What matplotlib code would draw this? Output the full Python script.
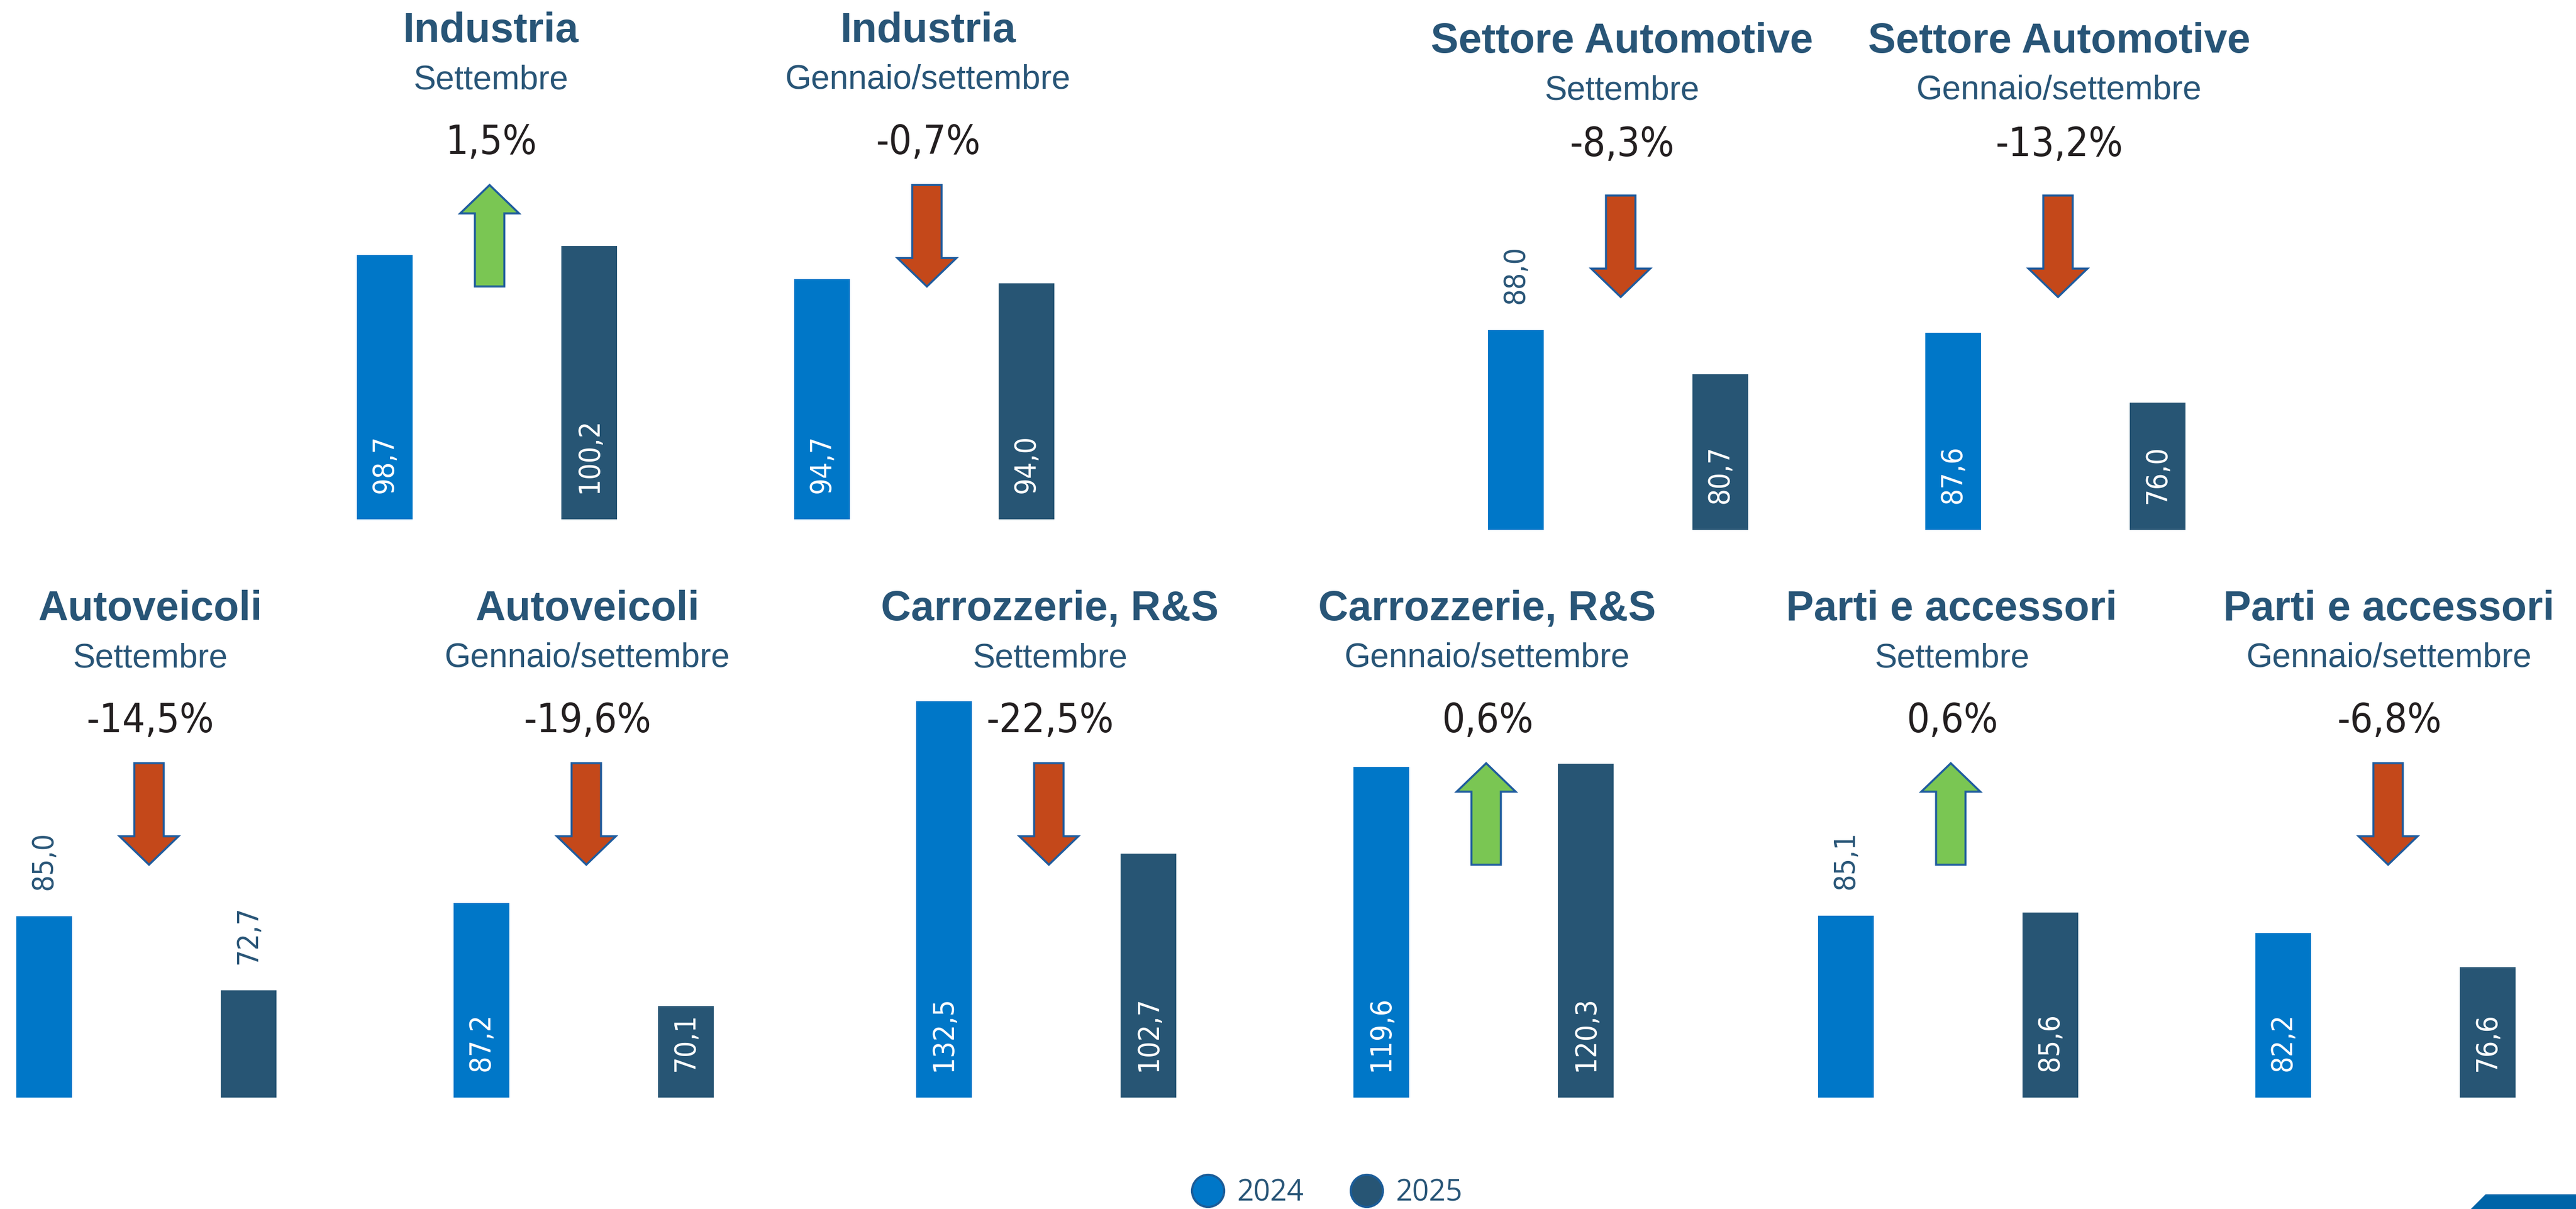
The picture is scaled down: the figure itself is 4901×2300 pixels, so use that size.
import matplotlib
matplotlib.use("Agg")
import matplotlib.pyplot as plt
from matplotlib.patches import Polygon
from matplotlib.lines import Line2D
from matplotlib.transforms import Affine2D
from matplotlib import font_manager
from matplotlib.font_manager import FontProperties

# ---- data ----
titles = ["Industria", "Industria", "Settore Automotive", "Settore Automotive",
          "Autoveicoli", "Autoveicoli", "Carrozzerie, R&S", "Carrozzerie, R&S",
          "Parti e accessori", "Parti e accessori"]
periods = ["Settembre", "Gennaio/settembre"] * 5
years = ["2024", "2025"]
values_2024 = [98.7, 94.7, 88.0, 87.6, 85.0, 87.2, 132.5, 119.6, 85.1, 82.2]
values_2025 = [100.2, 94.0, 80.7, 76.0, 72.7, 70.1, 102.7, 120.3, 85.6, 76.6]
changes = [1.5, -0.7, -8.3, -13.2, -14.5, -19.6, -22.5, 0.6, 0.6, -6.8]

# ---- layout (pixels, origin top-left) ----
W, H = 4901, 2300
bar_left = [679, 1511, 2831, 3663, 31, 863, 1743, 2575, 3459, 4291]
y_off = [0, 0, 20, 20, 1100, 1100, 1100, 1100, 1100, 1100]
pct_y = [293, 293, 297, 297, 1393, 1393, 1393, 1393, 1393, 1393]
px_per_unit = [11.5, 11.5, 11.5, 11.5, 11.5, 11.5, 9.73, 9.73, 11.5, 11.5]
label_out = {(2, 0), (4, 0), (4, 1), (8, 0)}
Y_MIN = 55
AX_H = 900
SPACING = 389
BAR_W = 106

C2024 = "#0077C8"
C2025 = "#275574"
TXT = "#285577"
EDGE = "#1F5C9E"
RED = "#C4481A"
GREEN = "#7AC653"

# a narrow face for numbers, if one is installed
fonts = font_manager.fontManager.ttflist
names = {f.name for f in fonts}
sans = "Liberation Sans" if "Liberation Sans" in names else "DejaVu Sans"
narrow_file = None
for pref in ("LiberationSansNarrow-Regular", "DejaVuSansCondensed.", "Roboto_Condensed-Regular",
             "RobotoCondensed-Regular"):
    for f in fonts:
        if pref in f.fname:
            narrow_file = f.fname
            break
    if narrow_file:
        break


def num_font(size):
    if narrow_file:
        return FontProperties(fname=narrow_file, size=size)
    return FontProperties(family="DejaVu Sans", size=size * 0.9)


fig = plt.figure(figsize=(W / 100, H / 100), dpi=100)
pix = Affine2D().scale(1 / W, -1 / H).translate(0, 1) + fig.transFigure


def arrow_pts(cx, top, up):
    L, hl, hw, sw = 193, 54, 56, 28
    if up:
        return [(cx, top), (cx + hw, top + hl), (cx + sw, top + hl), (cx + sw, top + L),
                (cx - sw, top + L), (cx - sw, top + hl), (cx - hw, top + hl)]
    bot = top + L
    return [(cx, bot), (cx + hw, bot - hl), (cx + sw, bot - hl), (cx + sw, top),
            (cx - sw, top), (cx - sw, bot - hl), (cx - hw, bot - hl)]


for i in range(len(titles)):
    bottom = 988 + y_off[i]
    ax_left = bar_left[i] + BAR_W / 2 - SPACING / 2
    ax = fig.add_axes([ax_left / W, 1 - bottom / H, 2 * SPACING / W, AX_H / H])
    ax.set_xlim(-0.5, 1.5)
    ax.set_ylim(Y_MIN, Y_MIN + AX_H / px_per_unit[i])
    ax.axis("off")
    vals = [values_2024[i], values_2025[i]]
    ax.bar([0, 1], vals, width=BAR_W / SPACING, color=[C2024, C2025])
    for j, v in enumerate(vals):
        s = f"{v:.1f}".replace(".", ",")
        out = (i, j) in label_out
        ax.annotate(s, (j, v if out else Y_MIN), xytext=(0, 36), textcoords="offset points",
                    rotation=90, ha="center", va="bottom",
                    color=TXT if out else "white", fontproperties=num_font(40))

    cx = bar_left[i] + 254.5
    fig.text(cx, 80 + y_off[i], titles[i], transform=pix, ha="center", va="baseline",
             fontsize=57, fontweight="bold", family=sans, color=TXT)
    fig.text(cx, 169 + y_off[i], periods[i], transform=pix, ha="center", va="baseline",
             fontsize=46, family=sans, color=TXT)
    pct = f"{changes[i]:.1f}%".replace(".", ",")
    fig.text(cx + 1, pct_y[i], pct, transform=pix, ha="center", va="baseline",
             fontproperties=num_font(55), color="#231F20")
    up = changes[i] > 0
    fig.add_artist(Polygon(arrow_pts(bar_left[i] + 252.5, 352 + y_off[i], up),
                           closed=True, transform=pix, facecolor=GREEN if up else RED,
                           edgecolor=EDGE, linewidth=2.8))

# legend
handles = [Line2D([], [], ls="none", marker="o", markersize=44, markerfacecolor=c,
                  markeredgecolor="#1B5C98", markeredgewidth=3) for c in (C2024, C2025)]
fig.legend(handles, years, loc="center", bbox_to_anchor=(2526 / W, 1 - 2270 / H),
           ncol=2, frameon=False, handlelength=1.0, handletextpad=0.5,
           columnspacing=1.65, labelcolor=TXT,
           prop={"family": "Open Sans", "size": 40})

# corner decoration
fig.add_artist(Polygon([(4729, 2272), (4901, 2272), (4901, 2300), (4701, 2300)],
                       closed=True, transform=pix, facecolor="#0064A8", edgecolor="none"))

fig.savefig("out.png", dpi=100)
